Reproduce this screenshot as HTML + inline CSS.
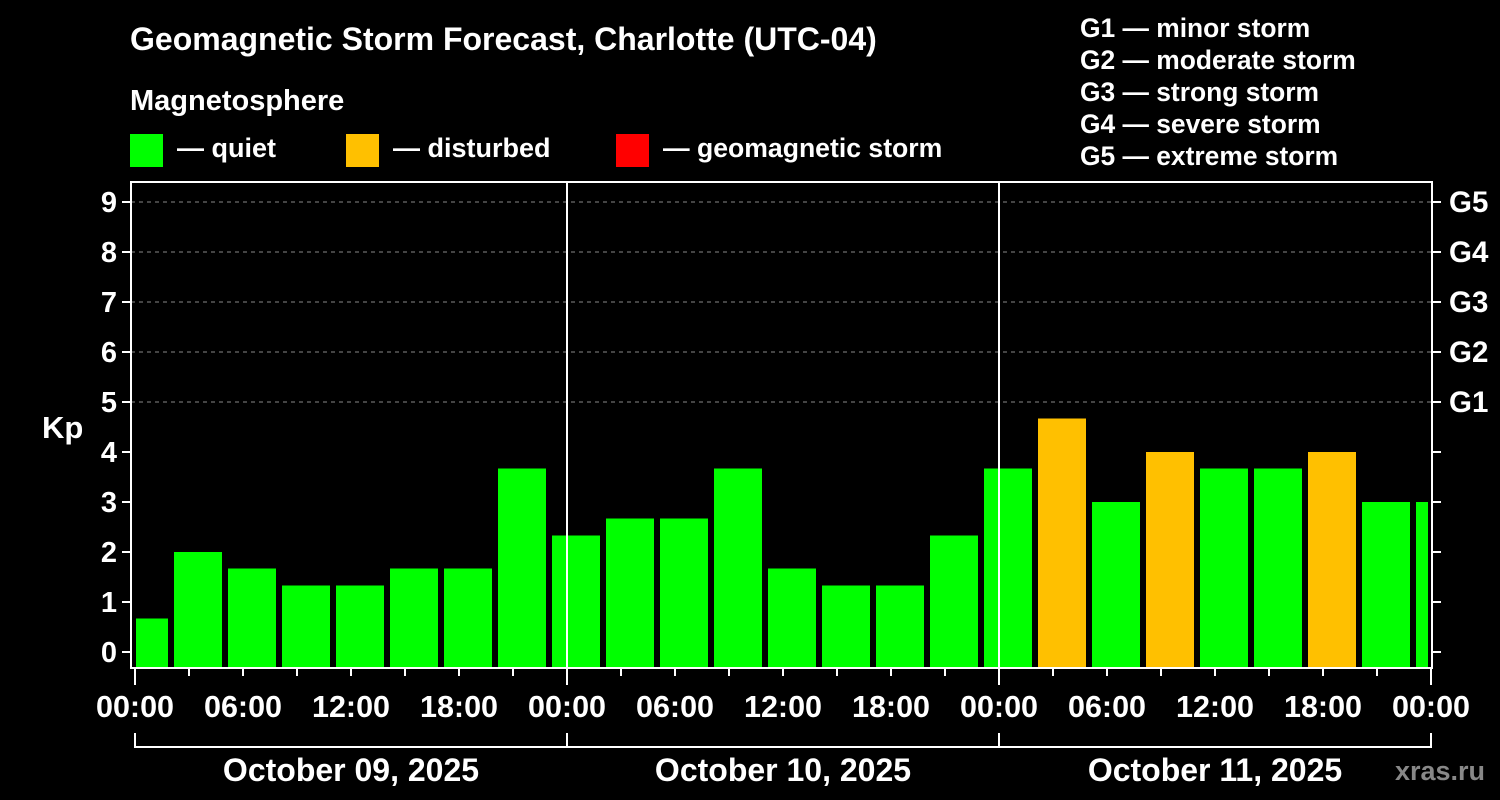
<!DOCTYPE html>
<html><head><meta charset="utf-8"><style>
html,body{margin:0;padding:0;background:#000;}
svg{display:block;font-family:"Liberation Sans",Arial,sans-serif;font-weight:bold;}
</style></head><body>
<svg id="chart" width="1500" height="800" viewBox="0 0 1500 800">
<rect x="0" y="0" width="1500" height="800" fill="#000"/>
<text x="130" y="50" fill="#fff" font-size="32">Geomagnetic Storm Forecast, Charlotte (UTC-04)</text>
<text x="130" y="110" fill="#fff" font-size="29">Magnetosphere</text>
<g><rect x="130" y="134" width="33" height="33" fill="#00ff00"/><text x="177" y="157" fill="#fff" font-size="27">— quiet</text></g>
<g><rect x="346" y="134" width="33" height="33" fill="#ffc000"/><text x="393" y="157" fill="#fff" font-size="27">— disturbed</text></g>
<g><rect x="616" y="134" width="33" height="33" fill="#ff0000"/><text x="663" y="157" fill="#fff" font-size="26.6">— geomagnetic storm</text></g>
<g fill="#fff" font-size="26.4">
<text x="1080" y="37">G1 — minor storm</text>
<text x="1080" y="69">G2 — moderate storm</text>
<text x="1080" y="101">G3 — strong storm</text>
<text x="1080" y="133">G4 — severe storm</text>
<text x="1080" y="165">G5 — extreme storm</text>
</g>
<text x="42" y="438" fill="#fff" font-size="31">Kp</text>
<g id="plot"></g>
<text x="1440" y="780" fill="#888" font-size="27" text-anchor="middle">xras.ru</text>
</svg>
<script>
const kpValues = [0.67,2,1.67,1.33,1.33,1.67,1.67,3.67,2.33,2.67,2.67,3.67,1.67,1.33,1.33,2.33,3.67,4.67,3,4,3.67,3.67,4,3,3];
const barHours = [0.5,3.5,6.5,9.5,12.5,15.5,18.5,21.5,24.5,27.5,30.5,33.5,36.5,39.5,42.5,45.5,48.5,51.5,54.5,57.5,60.5,63.5,66.5,69.5,72.5];
const barStatus = ['q','q','q','q','q','q','q','q','q','q','q','q','q','q','q','q','q','d','q','d','q','q','d','q','q'];
const yTicks = [0,1,2,3,4,5,6,7,8,9];
const gLabels = ['','','','','','G1','G2','G3','G4','G5'];
const xTickLabels = ['00:00','06:00','12:00','18:00','00:00','06:00','12:00','18:00','00:00','06:00','12:00','18:00','00:00'];
const dayLabels = ['October 09, 2025','October 10, 2025','October 11, 2025'];

const NS='http://www.w3.org/2000/svg';
const X0=135, PX_H=18, Y0=652, PX_K=50, L=131, R=1432, T=182, B=668;
const xs=h=>X0+h*PX_H, ys=v=>Y0-v*PX_K;
const g=document.getElementById('plot');
function mk(tag,attrs,parent){const e=document.createElementNS(NS,tag);for(const k in attrs)e.setAttribute(k,attrs[k]);(parent||g).appendChild(e);return e;}

yTicks.forEach((v,i)=>{
  if(v>=5){const l=mk('line',{x1:L,x2:R,y1:ys(v),y2:ys(v),stroke:'#888','stroke-dasharray':'4,4','stroke-width':1});
  
  }
});
const colors={q:'#00ff00',d:'#ffc000',s:'#ff0000'};
kpValues.forEach((v,i)=>{
  let x1=Math.max(xs(barHours[i])-24,136), x2=Math.min(xs(barHours[i])+24,1428);
  if(x2<=x1)return;
  const r=mk('rect',{x:x1,y:ys(v),width:x2-x1,height:B-ys(v),fill:colors[barStatus[i]]});
  
  
});
[24,48].forEach(h=>{const l=mk('line',{x1:xs(h),x2:xs(h),y1:T,y2:B,stroke:'#fff','stroke-width':2});
  
  });
const f=mk('path',{d:`M${L} ${T}H${R}V${B}H${L}Z`,fill:'none',stroke:'#fff','stroke-width':2});


yTicks.forEach((v,i)=>{
  mk('line',{x1:L-9,x2:L,y1:ys(v),y2:ys(v),stroke:'#fff','stroke-width':2});
  mk('line',{x1:R,x2:R+9,y1:ys(v),y2:ys(v),stroke:'#fff','stroke-width':2});
  const t=mk('text',{x:L-14,y:ys(v)+10,fill:'#fff','font-size':29,'text-anchor':'end'});t.textContent=v;
  
  
  if(gLabels[i]){const gt=mk('text',{x:1449,y:ys(v)+10,fill:'#fff','font-size':29.5});gt.textContent=gLabels[i];
  
  }
});
for(let h=0;h<=72;h+=3){
  const major=h%24===0;
  mk('line',{x1:xs(h),x2:xs(h),y1:B,y2:B+(major?17:8),stroke:'#fff','stroke-width':2});
}
xTickLabels.forEach((s,i)=>{
  const t=mk('text',{x:xs(i*6),y:717,fill:'#fff','font-size':30.5,'text-anchor':'middle'});t.textContent=s;
  
  
});
mk('path',{d:`M${xs(0)} 733V747H${xs(72)}V733`,fill:'none',stroke:'#fff','stroke-width':2});
[24,48].forEach(h=>mk('line',{x1:xs(h),x2:xs(h),y1:733,y2:747,stroke:'#fff','stroke-width':2}));
dayLabels.forEach((s,i)=>{
  const t=mk('text',{x:xs(i*24+12),y:781,fill:'#fff','font-size':32,'text-anchor':'middle'});t.textContent=s;
  
  
});
</script>
</body></html>
